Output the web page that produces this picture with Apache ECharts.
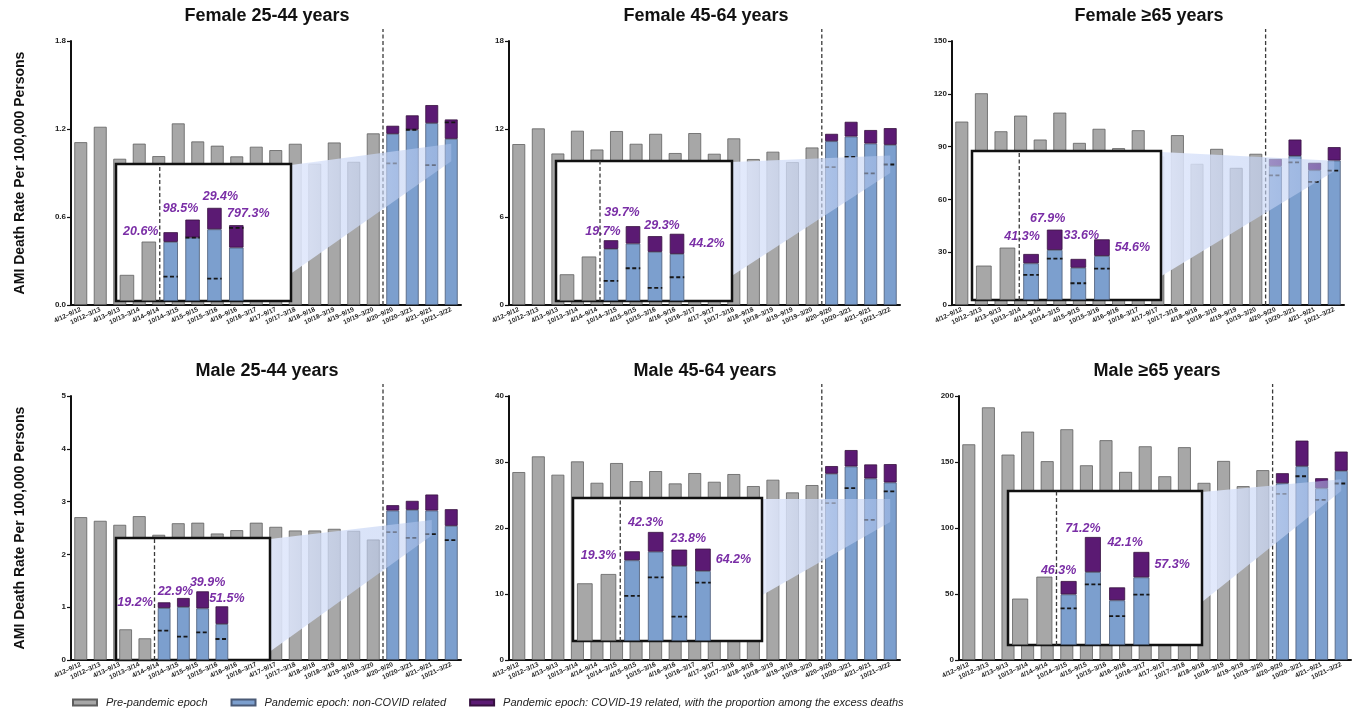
<!DOCTYPE html>
<html>
<head>
<meta charset="utf-8">
<script src="https://cdn.jsdelivr.net/npm/echarts@6/dist/echarts.min.js"></script>
<style>
  html, body { margin: 0; padding: 0; background: #fff; }
  #main { width: 1362px; height: 715px; }
</style>
</head>
<body>
<div id="main"></div>
<script>
var categories = [
  '4/12–9/12', '10/12–3/13', '4/13–9/13', '10/13–3/14', '4/14–9/14',
  '10/14–3/15', '4/15–9/15', '10/15–3/16', '4/16–9/16', '10/16–3/17',
  '4/17–9/17', '10/17–3/18', '4/18–9/18', '10/18–3/19', '4/19–9/19',
  '10/19–3/20', '4/20–9/20', '10/20–3/21', '4/21–9/21', '10/21–3/22'
];
var insetSlots = ['s1', 's2', 's3', 's4', 's5', 's6', 's7', 's8'];
var seriesNames = [
  'Pre-pandemic epoch',
  'Pandemic epoch: non-COVID related',
  'Pandemic epoch: COVID-19 related, with the proportion among the excess deaths'
];

// Female 25-44
var f2544Ticks = [0, 0.6, 1.2, 1.8];
var f2544Pre = [1.11, 1.215, 0.997, 1.10, 1.015, 1.238, 1.115, 1.086, 1.013, 1.079, 1.056, 1.099, 0.963, 1.108, 0.976, 1.17];
var f2544NonCovid = [1.167, 1.195, 1.24, 1.133];
var f2544Covid = [0.055, 0.098, 0.123, 0.132];
var f2544Expected = [0.965, 1.195, 0.954, 1.245];
var f2544InsetPre = [0.178, 0.405];
var f2544InsetNonCovid = [0.403, 0.432, 0.489, 0.364];
var f2544InsetCovid = [0.066, 0.123, 0.146, 0.153];
var f2544InsetExpected = [0.166, 0.432, 0.152, 0.498];
var f2544Shares = ['20.6%', '98.5%', '29.4%', '797.3%'];

// Female 45-64
var f4564Ticks = [0, 6, 12, 18];
var f4564Pre = [10.97, 12.04, 10.33, 11.88, 10.6, 11.86, 10.99, 11.67, 10.36, 11.72, 10.31, 11.36, 9.95, 10.45, 9.74, 10.74];
var f4564NonCovid = [11.17, 11.49, 11.01, 10.92];
var f4564Covid = [0.5, 1.0, 0.92, 1.14];
var f4564Expected = [9.40, 10.10, 8.97, 9.58];
var f4564InsetPre = [1.82, 3.03];
var f4564InsetNonCovid = [3.55, 3.91, 3.35, 3.21];
var f4564InsetCovid = [0.59, 1.19, 1.07, 1.37];
var f4564InsetExpected = [1.37, 2.23, 0.89, 1.62];
var f4564Shares = ['19.7%', '39.7%', '29.3%', '44.2%'];

// Female >=65
var f65Ticks = [0, 30, 60, 90, 120, 150];
var f65Pre = [104.2, 120.3, 98.7, 107.6, 94.0, 109.3, 92.1, 100.1, 89.1, 99.3, 84.4, 96.5, 80.2, 88.7, 77.9, 85.9];
var f65NonCovid = [78.9, 84.7, 76.6, 82.1];
var f65Covid = [4.1, 9.3, 4.2, 7.6];
var f65Expected = [73.6, 81.0, 70.0, 76.4];
var f65InsetPre = [19.5, 29.7];
var f65InsetNonCovid = [20.8, 28.4, 18.3, 25.0];
var f65InsetCovid = [5.3, 11.5, 5.0, 9.4];
var f65InsetExpected = [14.2, 23.5, 9.5, 17.8];
var f65Shares = ['41.3%', '67.9%', '33.6%', '54.6%'];

// Male 25-44
var m2544Ticks = [0, 1, 2, 3, 4, 5];
var m2544Pre = [2.705, 2.636, 2.56, 2.724, 2.371, 2.59, 2.60, 2.396, 2.459, 2.60, 2.522, 2.453, 2.453, 2.484, 2.446, 2.282];
var m2544NonCovid = [2.831, 2.844, 2.831, 2.541];
var m2544Covid = [0.101, 0.17, 0.303, 0.315];
var m2544Expected = [2.421, 2.314, 2.383, 2.27];
var m2544InsetPre = [0.58, 0.41];
var m2544InsetNonCovid = [0.984, 1.003, 0.977, 0.681];
var m2544InsetCovid = [0.107, 0.17, 0.322, 0.334];
var m2544InsetExpected = [0.555, 0.441, 0.523, 0.397];
var m2544Shares = ['19.2%', '22.9%', '39.9%', '51.5%'];

// Male 45-64
var m4564Ticks = [0, 10, 20, 30, 40];
var m4564Pre = [28.47, 30.85, 28.07, 30.09, 26.85, 29.84, 27.10, 28.62, 26.75, 28.32, 27.00, 28.17, 26.35, 27.31, 25.39, 26.50];
var m4564NonCovid = [28.22, 29.33, 27.51, 26.90];
var m4564Covid = [1.16, 2.48, 2.12, 2.78];
var m4564Expected = [23.77, 26.04, 21.24, 25.54];
var m4564InsetPre = [8.75, 10.16];
var m4564InsetNonCovid = [12.24, 13.55, 11.38, 10.62];
var m4564InsetCovid = [1.36, 2.99, 2.48, 3.39];
var m4564InsetExpected = [6.83, 9.66, 3.69, 8.85];
var m4564Shares = ['19.3%', '42.3%', '23.8%', '64.2%'];

// Male >=65
var m65Ticks = [0, 50, 100, 150, 200];
var m65Pre = [163.4, 191.4, 155.6, 173.0, 150.6, 174.8, 147.5, 166.5, 142.5, 161.9, 139.2, 161.2, 134.2, 150.8, 131.7, 143.8];
var m65NonCovid = [133.9, 146.8, 130.1, 143.3];
var m65Covid = [7.6, 19.4, 7.6, 14.6];
var m65Expected = [125.9, 139.2, 121.3, 133.7];
var m65InsetPre = [35.1, 51.7];
var m65InsetNonCovid = [38.3, 55.2, 33.8, 51.2];
var m65InsetCovid = [10.1, 26.5, 9.8, 19.2];
var m65InsetExpected = [27.7, 45.9, 21.9, 38.1];
var m65Shares = ['46.3%', '71.2%', '42.1%', '57.3%'];

// layout of each panel (pixels), inset frame and zoom wedge
var panels = [
  { title: 'Female 25-44 years', titleX: 267, titleY: 7, yName: true, decimals: 1,
    ticks: f2544Ticks, pre: f2544Pre, nonCovid: f2544NonCovid, covid: f2544Covid, expected: f2544Expected,
    insetPre: f2544InsetPre, insetNonCovid: f2544InsetNonCovid, insetCovid: f2544InsetCovid,
    insetExpected: f2544InsetExpected, shares: f2544Shares,
    grid: { left: 71, top: 41, width: 390, height: 264 },
    inset: { left: 116, top: 164, width: 175, height: 137, max: 0.934 },
    wedge: { start: 0.8, x: 19, top: 1.1, bottom: 0.98 },
    labels: [['left', 0, -6], ['top', -12, 0], ['top', 6, 0], ['top', 12, 0]] },
  { title: 'Female 45-64 years', titleX: 706, titleY: 7, yName: false, decimals: 0,
    ticks: f4564Ticks, pre: f4564Pre, nonCovid: f4564NonCovid, covid: f4564Covid, expected: f4564Expected,
    insetPre: f4564InsetPre, insetNonCovid: f4564InsetNonCovid, insetCovid: f4564InsetCovid,
    insetExpected: f4564InsetExpected, shares: f4564Shares,
    grid: { left: 509, top: 41, width: 391, height: 264 },
    inset: { left: 556, top: 161, width: 176, height: 140, max: 9.54 },
    wedge: { start: 0.82, x: 19, top: 10.2, bottom: 9.0 },
    labels: [['top', -8, 3], ['top', -11, -2], ['top', 7, 1], ['right', 0, 0]] },
  { title: 'Female ≥65 years', titleX: 1149, titleY: 7, yName: false, decimals: 0,
    ticks: f65Ticks, pre: f65Pre, nonCovid: f65NonCovid, covid: f65Covid, expected: f65Expected,
    insetPre: f65InsetPre, insetNonCovid: f65InsetNonCovid, insetCovid: f65InsetCovid,
    insetExpected: f65InsetExpected, shares: f65Shares,
    grid: { left: 952, top: 41, width: 392, height: 264 },
    inset: { left: 972, top: 151, width: 189, height: 149, max: 84.5 },
    wedge: { start: 0.84, x: 19, top: 82, bottom: 76 },
    labels: [['top', -9, -6], ['top', -7, 0], ['top', 3, -12], ['right', 0, 0]] },
  { title: 'Male 25-44 years', titleX: 267, titleY: 362, yName: true, decimals: 0,
    ticks: m2544Ticks, pre: m2544Pre, nonCovid: m2544NonCovid, covid: m2544Covid, expected: m2544Expected,
    insetPre: m2544InsetPre, insetNonCovid: m2544InsetNonCovid, insetCovid: m2544InsetCovid,
    insetExpected: m2544InsetExpected, shares: m2544Shares,
    grid: { left: 71, top: 396, width: 390, height: 264 },
    inset: { left: 116, top: 538, width: 154, height: 122, max: 2.308 },
    wedge: { start: 0.93, x: 18, top: 2.65, bottom: 2.36 },
    labels: [['left', 0, -3], ['top', -8, 5], ['top', 5, 3], ['top', 5, 4]] },
  { title: 'Male 45-64 years', titleX: 705, titleY: 362, yName: false, decimals: 0,
    ticks: m4564Ticks, pre: m4564Pre, nonCovid: m4564NonCovid, covid: m4564Covid, expected: m4564Expected,
    insetPre: m4564InsetPre, insetNonCovid: m4564InsetNonCovid, insetCovid: m4564InsetCovid,
    insetExpected: m4564InsetExpected, shares: m4564Shares,
    grid: { left: 509, top: 396, width: 391, height: 264 },
    inset: { left: 573, top: 498, width: 189, height: 143, max: 21.69 },
    wedge: { start: 0.68, x: 19, top: 24.4, bottom: 20.9 },
    labels: [['left', -3, 0], ['top', -10, 2], ['top', 9, 0], ['right', 0, 0]] },
  { title: 'Male ≥65 years', titleX: 1157, titleY: 362, yName: false, decimals: 0,
    ticks: m65Ticks, pre: m65Pre, nonCovid: m65NonCovid, covid: m65Covid, expected: m65Expected,
    insetPre: m65InsetPre, insetNonCovid: m65InsetNonCovid, insetCovid: m65InsetCovid,
    insetExpected: m65InsetExpected, shares: m65Shares,
    grid: { left: 959, top: 396, width: 392, height: 264 },
    inset: { left: 1008, top: 491, width: 194, height: 154, max: 116.5 },
    wedge: { start: 0.72, x: 19, top: 137, bottom: 128 },
    labels: [['top', -10, 1], ['top', -10, 3], ['top', 8, -33], ['right', 0, 0]] }
];

var FONT = 'Arial, "Liberation Sans", Helvetica, sans-serif';
var GRAY = { color: '#a7a7a7', borderColor: '#5f5f5f', borderWidth: 0.8 };
var BLUE = { color: '#7c9fce', borderColor: '#4a5a76', borderWidth: 0.8 };
var PURPLE = { color: '#5b1a73', borderColor: '#36103f', borderWidth: 0.8 };

function blanks(n) {
  var a = [];
  for (var i = 0; i < n; i++) a.push('-');
  return a;
}

function dashItem(params, api) {
  var p = api.coord([api.value(0), api.value(1)]);
  var w = api.size([1, 0])[0] * 0.66;
  return {
    type: 'line',
    shape: { x1: p[0] - w / 2, y1: p[1], x2: p[0] + w / 2, y2: p[1] },
    style: { stroke: '#161616', lineWidth: 1.8, lineDash: [4, 2.5] }
  };
}

function dividerItem(extraTop) {
  return function (params, api) {
    var a = api.coord([api.value(0), 0]);
    var b = api.coord([api.value(0) + 1, 0]);
    var x = (a[0] + b[0]) / 2;
    var cs = params.coordSys;
    return {
      type: 'line',
      shape: { x1: x, y1: cs.y + cs.height, x2: x, y2: cs.y - extraTop },
      style: { stroke: '#3a3a3a', lineWidth: 1.3, lineDash: [4, 2.5] }
    };
  };
}

function wedgeItem(p) {
  return function (params, api) {
    var ins = p.inset;
    var right = ins.left + ins.width;
    var a = api.coord([p.wedge.x, p.wedge.top]);
    var b = api.coord([p.wedge.x, p.wedge.bottom]);
    return {
      type: 'polygon',
      shape: { points: [[right, ins.top + 1], a, b, [right, ins.top + ins.height * p.wedge.start]] },
      style: {
        fill: new echarts.graphic.LinearGradient(0, 0, 1, 0, [
          { offset: 0, color: 'rgba(226,233,252,0.93)' },
          { offset: 1, color: 'rgba(178,198,240,0.45)' }
        ])
      }
    };
  };
}

var option = {
  animation: false,
  backgroundColor: '#fff',
  textStyle: { fontFamily: FONT },
  title: [],
  legend: {
    data: seriesNames,
    left: 72,
    top: 697,
    padding: 0,
    itemWidth: 24,
    itemHeight: 6,
    itemGap: 23,
    icon: 'rect',
    textStyle: { fontFamily: FONT, fontSize: 11, fontStyle: 'italic', color: '#222', padding: [0, 0, 0, 4] }
  },
  grid: [],
  xAxis: [],
  yAxis: [],
  series: []
};

panels.forEach(function (p, i) {
  var mi = i * 2, ii = i * 2 + 1;
  var ticks = p.ticks;

  option.title.push({
    text: p.title, left: p.titleX, top: p.titleY, textAlign: 'center', padding: 0,
    textStyle: { fontFamily: FONT, fontSize: 18, fontWeight: 'bold', color: '#111' }
  });

  option.grid.push({ left: p.grid.left, top: p.grid.top, width: p.grid.width, height: p.grid.height, z: 0 });
  option.grid.push({
    left: p.inset.left, top: p.inset.top, width: p.inset.width, height: p.inset.height,
    show: true, backgroundColor: '#fff', borderColor: '#111', borderWidth: 2.5, z: 4
  });

  option.xAxis.push({
    type: 'category', gridIndex: mi, data: categories,
    axisLine: { lineStyle: { color: '#111', width: 2 } },
    axisTick: { alignWithLabel: true, length: 3, lineStyle: { color: '#111', width: 1.2 } },
    axisLabel: { interval: 0, rotate: 25, fontSize: 6.5, fontWeight: 'bold', color: '#222', margin: 4 }
  });
  option.xAxis.push({ type: 'category', gridIndex: ii, data: insetSlots, show: false });

  option.yAxis.push({
    type: 'value', gridIndex: mi, min: ticks[0], max: ticks[ticks.length - 1], interval: ticks[1] - ticks[0],
    name: p.yName ? 'AMI Death Rate Per 100,000 Persons' : '',
    nameLocation: 'middle', nameGap: 44,
    nameTextStyle: { fontFamily: FONT, fontSize: 14, fontWeight: 'bold', color: '#111' },
    axisLine: { show: true, lineStyle: { color: '#111', width: 2 } },
    axisTick: { show: true, length: 4, lineStyle: { color: '#111', width: 1.2 } },
    splitLine: { show: false },
    axisLabel: {
      fontSize: 8, fontWeight: 'bold', color: '#222', margin: 5,
      formatter: (function (d) { return function (v) { return v.toFixed(d); }; })(p.decimals)
    }
  });
  option.yAxis.push({ type: 'value', gridIndex: ii, min: 0, max: p.inset.max, show: false });

  var nPre = p.pre.length;

  // main panel bars
  option.series.push({
    name: seriesNames[0], type: 'bar', xAxisIndex: mi, yAxisIndex: mi, stack: 'main' + i,
    barWidth: '66%', itemStyle: GRAY, data: p.pre.concat(blanks(p.nonCovid.length)), z: 2
  });
  option.series.push({
    name: seriesNames[1], type: 'bar', xAxisIndex: mi, yAxisIndex: mi, stack: 'main' + i,
    barWidth: '66%', itemStyle: BLUE, data: blanks(nPre).concat(p.nonCovid), z: 2
  });
  option.series.push({
    name: seriesNames[2], type: 'bar', xAxisIndex: mi, yAxisIndex: mi, stack: 'main' + i,
    barWidth: '66%', itemStyle: PURPLE, data: blanks(nPre).concat(p.covid), z: 2
  });
  option.series.push({
    type: 'custom', xAxisIndex: mi, yAxisIndex: mi, z: 3, silent: true,
    renderItem: dashItem,
    data: p.expected.map(function (v, k) { return [nPre + k, v]; })
  });
  option.series.push({
    type: 'custom', xAxisIndex: mi, yAxisIndex: mi, z: 3, silent: true,
    renderItem: dividerItem(12), data: [[nPre - 1, 0]]
  });
  option.series.push({
    type: 'custom', xAxisIndex: mi, yAxisIndex: mi, z: 3, silent: true,
    renderItem: wedgeItem(p), data: [[p.wedge.x, p.wedge.top]]
  });

  // inset bars
  var nIn = p.insetPre.length;
  var tail = insetSlots.length - nIn - p.insetNonCovid.length;
  option.series.push({
    name: seriesNames[0], type: 'bar', xAxisIndex: ii, yAxisIndex: ii, stack: 'inset' + i,
    barWidth: '66%', itemStyle: GRAY, z: 5,
    data: p.insetPre.concat(blanks(p.insetNonCovid.length + tail))
  });
  option.series.push({
    name: seriesNames[1], type: 'bar', xAxisIndex: ii, yAxisIndex: ii, stack: 'inset' + i,
    barWidth: '66%', itemStyle: BLUE, z: 5,
    data: blanks(nIn).concat(p.insetNonCovid, blanks(tail))
  });
  option.series.push({
    name: seriesNames[2], type: 'bar', xAxisIndex: ii, yAxisIndex: ii, stack: 'inset' + i,
    barWidth: '66%', itemStyle: PURPLE, z: 5,
    label: {
      show: true, fontFamily: FONT, fontSize: 12.5, fontStyle: 'italic', fontWeight: 'bold', color: '#7a2ea6',
      formatter: (function (sh, n) { return function (q) { return sh[q.dataIndex - n]; }; })(p.shares, nIn)
    },
    data: blanks(nIn).concat(p.insetCovid.map(function (v, k) {
      var l = p.labels[k];
      return { value: v, label: { position: l[0], offset: [l[1], l[2]] } };
    }), blanks(tail))
  });
  option.series.push({
    type: 'custom', xAxisIndex: ii, yAxisIndex: ii, z: 6, silent: true,
    renderItem: dashItem,
    data: p.insetExpected.map(function (v, k) { return [nIn + k, v]; })
  });
  option.series.push({
    type: 'custom', xAxisIndex: ii, yAxisIndex: ii, z: 6, silent: true,
    renderItem: dividerItem(0), data: [[nIn - 1, 0]]
  });
});

var chartDom = document.getElementById('main');
var myChart = echarts.init(chartDom, null, { renderer: 'canvas' });
myChart.setOption(option);
</script>
</body>
</html>
